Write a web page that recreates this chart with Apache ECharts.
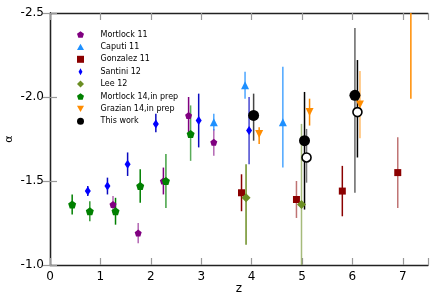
<!DOCTYPE html>
<html>
<head>
<meta charset="utf-8">
<script src="https://cdn.jsdelivr.net/npm/echarts@6/dist/echarts.min.js"></script>
<style>html,body{margin:0;padding:0;background:#fff}#c{width:436px;height:301px}</style>
</head>
<body>
<div id="c"></div>
<script>
// ---- data ----
const xTicks = [0, 1, 2, 3, 4, 5, 6, 7];
const yTicks = [-2.5, -2.0, -1.5, -1.0];

const mortlock11Z  = [1.25, 1.75, 2.25, 2.75, 3.25];
const mortlock11A  = [-1.36, -1.19, -1.50, -1.89, -1.73];
const mortlock11Lo = [-1.41, -1.25, -1.58, -2.00, -1.81];
const mortlock11Hi = [-1.31, -1.13, -1.42, -1.79, -1.65];

const caputiZ  = [3.25, 3.87, 4.62];
const caputiA  = [-1.85, -2.07, -1.85];
const caputiLo = [-1.90, -2.15, -2.18];
const caputiHi = [-1.80, -1.99, -1.58];

const gonzalezZ  = [3.80, 4.89, 5.80, 6.90];
const gonzalezA  = [-1.43, -1.39, -1.44, -1.55];
const gonzalezLo = [-1.54, -1.50, -1.59, -1.76];
const gonzalezHi = [-1.32, -1.28, -1.29, -1.34];

const santiniZ  = [0.75, 1.14, 1.54, 2.10, 2.95, 3.95];
const santiniA  = [-1.44, -1.47, -1.60, -1.84, -1.86, -1.80];
const santiniLo = [-1.47, -1.52, -1.67, -1.90, -2.02, -2.00];
const santiniHi = [-1.41, -1.42, -1.53, -1.79, -1.70, -1.60];

const leeZ  = [3.89, 4.99];
const leeA  = [-1.40, -1.36];
const leeLo = [-1.60, -1.84];
const leeHi = [-1.12, -0.88];

const mortlock14Z  = [0.44, 0.79, 1.30, 1.79, 2.30, 2.79];
const mortlock14A  = [-1.36, -1.32, -1.32, -1.47, -1.50, -1.78];
const mortlock14Lo = [-1.42, -1.38, -1.40, -1.57, -1.66, -1.95];
const mortlock14Hi = [-1.30, -1.26, -1.24, -1.37, -1.34, -1.62];

const grazianZ  = [4.15, 5.15, 6.15, 7.16];
const grazianA  = [-1.78, -1.91, -1.955, -2.75];
const grazianLo = [-1.82, -1.99, -2.155, -3.50];
const grazianHi = [-1.72, -1.83, -1.754, -1.99];

const thisWorkZ  = [4.04, 5.05, 6.05];
const thisWorkA  = [-1.89, -1.74, -2.01];
const thisWorkLo = [-2.02, -2.03, -2.41];
const thisWorkHi = [-1.74, -1.33, -1.43];

const thisWorkOpenZ  = [5.09, 6.10];
const thisWorkOpenA  = [-1.64, -1.91];
const thisWorkOpenLo = [-1.81, -2.22];
const thisWorkOpenHi = [-1.49, -1.64];

// ---- styles (separate from data) ----
const barAlpha = {
  m11: [0.6, 0.6, 1, 1, 0.6],
  cap: [0.8, 0.8, 0.8],
  gon: [1, 0.55, 1, 0.55],
  san: [1, 1, 1, 1, 1, 0.75],
  lee: [1, 0.6],
  m14: [1, 0.8, 1, 1, 0.75, 0.65],
  gra: [1, 1, 0.6, 1],
  tw:  [1, 1, 1],
  two: [1, 1]
};
const twBarColors = ['#444', '#000', '#666'];
const twoBarColors = ['#777', '#000'];

const PENT = 'path://M0,-1 L0.951,-0.309 L0.588,0.809 L-0.588,0.809 L-0.951,-0.309 Z';
const THIN_DIAMOND = 'path://M0,-1 L0.55,0 L0,1 L-0.55,0 Z';
const DIAMOND = 'path://M0,-1 L1,0 L0,1 L-1,0 Z';
const TRI_DOWN = 'path://M-1,-0.87 L1,-0.87 L0,0.87 Z';
const TRI_UP = 'path://M0,-0.87 L1,0.87 L-1,0.87 Z';

function zip2(a, b) { return a.map((v, i) => [v, b[i]]); }
function zip3(a, b, c) { return a.map((v, i) => [v, b[i], c[i]]); }

function errSeries(zArr, loArr, hiArr, color, alphas, width) {
  return {
    type: 'custom',
    silent: true,
    clip: true,
    z: 1,
    data: zip3(zArr, loArr, hiArr),
    encode: { x: 0, y: [1, 2] },
    renderItem: function (params, api) {
      const i = params.dataIndex;
      const p1 = api.coord([api.value(0), api.value(1)]);
      const p2 = api.coord([api.value(0), api.value(2)]);
      const cs = params.coordSys;
      const top = cs.y, bot = cs.y + cs.height;
      const y1 = Math.min(Math.max(p1[1], top), bot);
      const y2 = Math.min(Math.max(p2[1], top), bot);
      const col = Array.isArray(color) ? color[i] : color;
      return {
        type: 'line',
        shape: { x1: p1[0], y1: y1, x2: p2[0], y2: y2 },
        style: { stroke: col, lineWidth: width || 1.5, opacity: alphas ? alphas[i] : 1 }
      };
    }
  };
}

function markerSeries(name, zArr, aArr, symbol, size, color, extra) {
  return Object.assign({
    name: name,
    type: 'scatter',
    z: 3,
    clip: true,
    symbol: symbol,
    symbolSize: size,
    itemStyle: { color: color, opacity: 1 },
    data: zip2(zArr, aArr)
  }, extra || {});
}

const chart = echarts.init(document.getElementById('c'), null, { renderer: 'canvas' });

const axisLineStyle = { color: '#222', width: 1.3 };
const tickStyle = { color: '#999', width: 1.2 };

const option = {
  animation: false,
  backgroundColor: '#fff',
  grid: { left: 50, right: 8, top: 13, bottom: 36, containLabel: false, outerBoundsMode: 'none' },
  legend: {
    orient: 'vertical',
    left: 77,
    top: 30.5,
    padding: 0,
    itemWidth: 7,
    itemHeight: 7,
    itemGap: 4.4,
    textStyle: { fontSize: 8, fontFamily: 'DejaVu Sans', color: '#000', lineHeight: 8, padding: [0, 0, 0, 11.5] },
    data: ['Mortlock 11', 'Caputi 11', 'Gonzalez 11', 'Santini 12', 'Lee 12', 'Mortlock 14,in prep', 'Grazian 14,in prep', 'This work']
  },
  xAxis: [
    {
      type: 'value', min: 0, max: 7.5, interval: 1, position: 'bottom',
      name: 'z', nameLocation: 'middle', nameGap: 18, nameMoveOverlap: false,
      nameTextStyle: { fontSize: 12, fontFamily: 'DejaVu Sans', color: '#000' },
      axisLine: { show: true, lineStyle: axisLineStyle },
      axisTick: { show: true, inside: true, length: 7, lineStyle: tickStyle },
      axisLabel: { fontSize: 12, fontFamily: 'DejaVu Sans', color: '#000', margin: 6,
        formatter: v => (xTicks.indexOf(v) >= 0 ? String(v) : '') },
      splitLine: { show: false }
    },
    {
      type: 'value', min: 0, max: 7.5, interval: 1, position: 'top',
      axisLine: { show: true, lineStyle: axisLineStyle },
      axisTick: { show: true, inside: true, length: 7, lineStyle: tickStyle },
      axisLabel: { show: false },
      splitLine: { show: false }
    }
  ],
  yAxis: [
    {
      type: 'value', min: -2.5, max: -1.0, interval: 0.5, inverse: true, position: 'left',
      name: 'α', nameLocation: 'middle', nameGap: 35, nameRotate: 90, nameMoveOverlap: false,
      nameTextStyle: { fontSize: 11, fontFamily: 'DejaVu Sans', color: '#000' },
      axisLine: { show: true, lineStyle: axisLineStyle },
      axisTick: { show: true, inside: true, length: 7, lineStyle: tickStyle },
      axisLabel: { fontSize: 12, fontFamily: 'DejaVu Sans', color: '#000', margin: 6,
        formatter: v => v.toFixed(1) },
      splitLine: { show: false }
    },
    {
      type: 'value', min: -2.5, max: -1.0, interval: 0.5, inverse: true, position: 'right',
      axisLine: { show: true, lineStyle: axisLineStyle },
      axisTick: { show: true, inside: true, length: 7, lineStyle: tickStyle },
      axisLabel: { show: false },
      splitLine: { show: false }
    }
  ],
  series: [
    errSeries(mortlock14Z, mortlock14Lo, mortlock14Hi, '#008000', barAlpha.m14),
    errSeries(mortlock11Z, mortlock11Lo, mortlock11Hi, '#800080', barAlpha.m11),
    errSeries(santiniZ, santiniLo, santiniHi, '#0a0ac0', barAlpha.san),
    errSeries(caputiZ, caputiLo, caputiHi, '#1e90ff', barAlpha.cap),
    errSeries(gonzalezZ, gonzalezLo, gonzalezHi, '#8b0000', barAlpha.gon),
    errSeries(leeZ, leeLo, leeHi, '#6b8e23', barAlpha.lee),
    errSeries(grazianZ, grazianLo, grazianHi, '#ff8c00', barAlpha.gra),
    errSeries(thisWorkZ, thisWorkLo, thisWorkHi, twBarColors, barAlpha.tw),
    errSeries(thisWorkOpenZ, thisWorkOpenLo, thisWorkOpenHi, twoBarColors, barAlpha.two),

    markerSeries('Mortlock 11', mortlock11Z, mortlock11A, PENT, 7, '#800080'),
    markerSeries('Caputi 11', caputiZ, caputiA, TRI_UP, 8, '#1e90ff'),
    markerSeries('Gonzalez 11', gonzalezZ, gonzalezA, 'rect', 7, '#8b0000'),
    markerSeries('Santini 12', santiniZ, santiniA, THIN_DIAMOND, [6, 9], '#0000ff'),
    markerSeries('Lee 12', leeZ, leeA, DIAMOND, 9, '#6b8e23'),
    markerSeries('Mortlock 14,in prep', mortlock14Z, mortlock14A, PENT, 8, '#008000'),
    markerSeries('Grazian 14,in prep', grazianZ, grazianA, TRI_DOWN, 8, '#ff8c00'),
    markerSeries('This work', thisWorkZ, thisWorkA, 'circle', 11, '#000'),
    markerSeries('This work (open)', thisWorkOpenZ, thisWorkOpenA, 'circle', 9, '#fff',
      { itemStyle: { color: '#fff', borderColor: '#000', borderWidth: 1.6, opacity: 1 } })
  ]
};
chart.setOption(option);
</script>
</body>
</html>
